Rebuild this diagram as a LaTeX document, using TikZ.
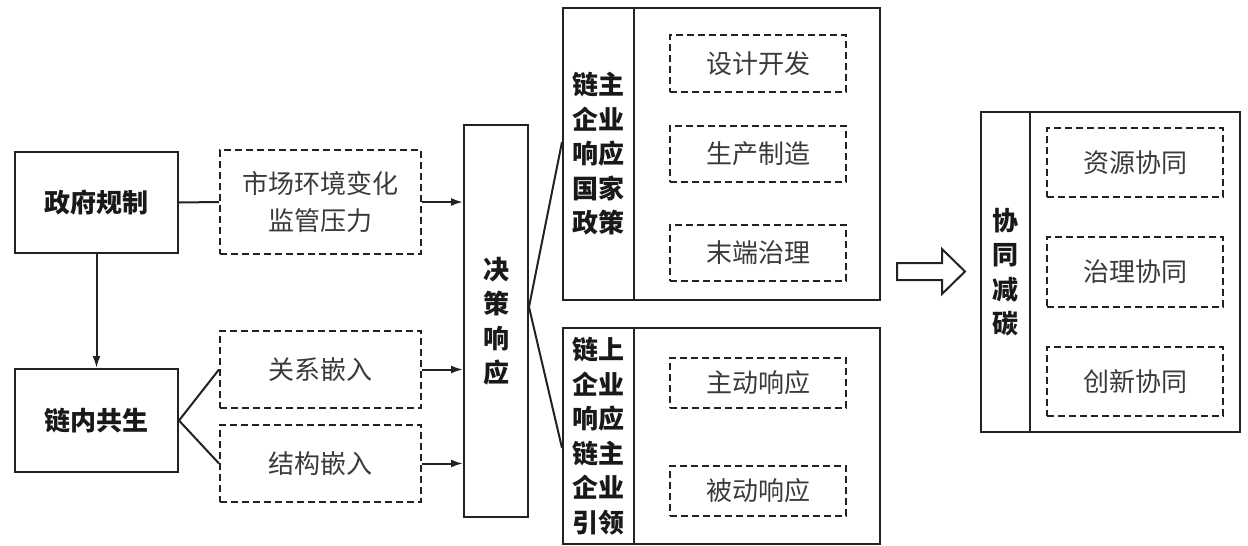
\documentclass[tikz,border=0pt]{standalone}
\usepackage{fontspec}
\setmainfont{Noto Sans CJK SC}
\usetikzlibrary{arrows.meta,calc}
\definecolor{linec}{HTML}{222222}
\definecolor{textg}{HTML}{3A3A3A}
\tikzset{
  solidbox/.style={draw=linec, line width=2pt, inner sep=0pt, minimum width=#1},
  dbox/.style={draw=linec, line width=2pt, dash pattern=on 7pt off 4pt, inner sep=0pt,
     minimum width=176pt, text=textg, font=\fontsize{26}{37}\selectfont, align=center},
  boldlab/.style={font=\fontsize{26}{34.5}\selectfont\bfseries, text=black!90, align=center},
  conn/.style={draw=linec, line width=2pt},
  arr/.style={conn, -{Latex[length=12pt,width=8pt]}},
}
\begin{document}
\begin{tikzpicture}[x=1pt,y=-1pt]
\useasboundingbox (0,0) rectangle (1248,546);
% left boxes
\node[solidbox=163pt, minimum height=101pt, boldlab] (gov) at (96.5,202.5) {政府规制};
\node[solidbox=163pt, minimum height=103pt, boldlab] (sym) at (96.5,420.5) {链内共生};
% dashed middle
\node[dbox, minimum width=201pt, minimum height=104pt] (mkt) at (320.5,202) {市场环境变化\\监管压力};
\node[dbox, minimum width=201pt, minimum height=77pt] (rel) at (320.5,369.5) {关系嵌入};
\node[dbox, minimum width=201pt, minimum height=77pt] (str) at (320.5,463.5) {结构嵌入};
% decision
\node[solidbox=64pt, minimum height=392pt, boldlab] (dec) at (496,321) {决\\策\\响\\应};
% top group
\node[solidbox=71pt, minimum height=292pt, boldlab] (topcol) at (598.5,154) {链主\\企业\\响应\\国家\\政策};
\node[solidbox=246pt, minimum height=292pt] (topbody) at (757,154) {};
\node[dbox, minimum height=57pt] (d1) at (758,63.5) {设计开发};
\node[dbox, minimum height=56pt] (d2) at (758,154) {生产制造};
\node[dbox, minimum height=56pt] (d3) at (758,253) {末端治理};
% bottom group
\node[solidbox=71pt, minimum height=216pt, boldlab] (botcol) at (598.5,436) {链上\\企业\\响应\\链主\\企业\\引领};
\node[solidbox=246pt, minimum height=216pt] (botbody) at (757,436) {};
\node[dbox, minimum height=50pt] (d4) at (758,383) {主动响应};
\node[dbox, minimum height=50pt] (d5) at (758,491) {被动响应};
% right group
\node[solidbox=49pt, minimum height=320pt, boldlab] (rcol) at (1005.5,272) {协\\同\\减\\碳};
\node[solidbox=210pt, minimum height=320pt] (rbody) at (1135,272) {};
\node[dbox, minimum height=69pt] (r1) at (1135,162.5) {资源协同};
\node[dbox, minimum height=70pt] (r2) at (1135,272) {治理协同};
\node[dbox, minimum height=69pt] (r3) at (1135,381.5) {创新协同};
% connectors
\draw[arr] (gov.south) -- (sym.north);
\draw[conn] (gov.east) -- (mkt.west);
\draw[conn] (sym.east) -- (rel.west);
\draw[conn] (sym.east) -- (str.west);
\draw[arr] (mkt.east) -- (mkt.east -| dec.west);
\draw[arr] (rel.east) -- (rel.east -| dec.west);
\draw[arr] (str.east) -- (str.east -| dec.west);
\coordinate (apex) at ([yshift=14pt]dec.east);
\draw[conn] (apex) -- ([yshift=12pt]topcol.west);
\draw[conn] (apex) -- ([yshift=-12pt]botcol.west);
% block arrow
\draw[draw=linec, line width=2pt, line join=miter] (897,263) -- (942,263) -- (942,249) -- (965,271.5) -- (942,294) -- (942,280) -- (897,280) -- cycle;
\end{tikzpicture}
\end{document}
